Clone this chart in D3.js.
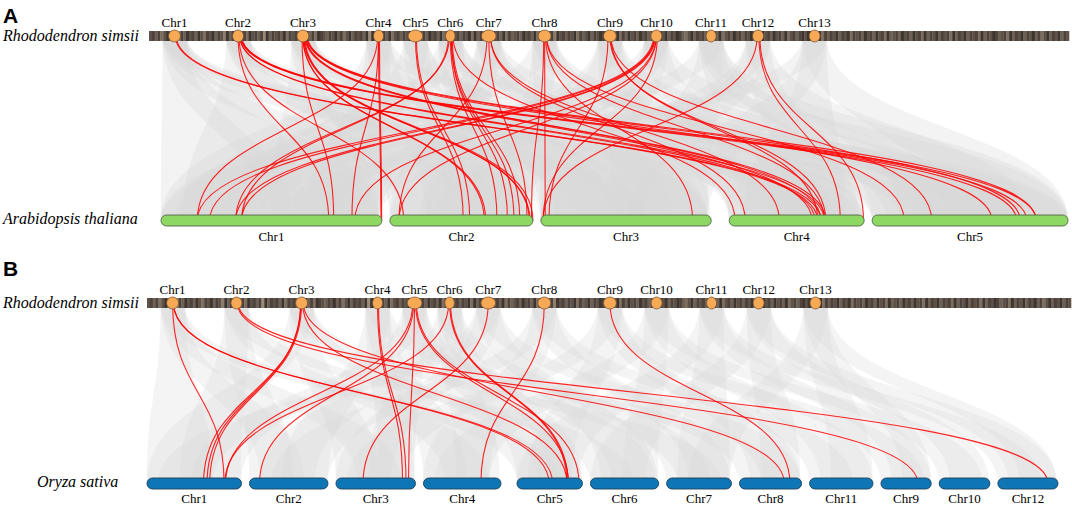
<!DOCTYPE html>
<html>
<head>
<meta charset="utf-8">
<script src="https://cdn.jsdelivr.net/npm/d3@7"></script>
<style>
  body { margin: 0; background: #fff; }
  svg { display: block; }
</style>
</head>
<body>
<script>
const width = 1072, height = 506;

// Rhododendron simsii chromosome marks: position along the top bar (0-1000) and mark size
const rsChr = ["Chr1", "Chr2", "Chr3", "Chr4", "Chr5", "Chr6", "Chr7", "Chr8", "Chr9", "Chr10", "Chr11", "Chr12", "Chr13"];
const rsPos = [27.7, 96.8, 167.3, 249.5, 289.6, 327.5, 369.3, 430, 501, 551.5, 611, 662, 723.5];
const rsSize = [13, 12, 13, 11, 16, 10.5, 16, 14, 14, 12, 11, 12, 12];
// gene density along the top bar (0 sparse .. 9 dense)
const rsDensity = "78685796873869786975879687496878685978683968786958786879685987687968579687869396878695786879685786978695869786879596878697869586786978695869784978687958679687986786958697869786795879687986579687869786957869786879586978697869578689797869586879687958786978697859678697869785968796878596879687859687986785968796879685796879687";

// Arabidopsis thaliana chromosomes (Mb)
const atChr = ["Chr1", "Chr2", "Chr3", "Chr4", "Chr5"];
const atLen = [30.43, 19.70, 23.46, 18.59, 26.98];

// Oryza sativa chromosomes (Mb), in plotted order
const osChr = ["Chr1", "Chr2", "Chr3", "Chr4", "Chr5", "Chr6", "Chr7", "Chr8", "Chr11", "Chr9", "Chr10", "Chr12"];
const osLen = [43.27, 35.94, 36.41, 35.50, 29.96, 31.25, 29.70, 28.44, 29.02, 23.01, 23.21, 27.53];

// collinear blocks (grey): [R. simsii chr, target chr (plot order), start Mb, end Mb]
const atBlocks = [
  [1,1,0,18],[1,1,14,30],[1,2,2,12],[1,3,5,15],[1,4,2,14],[1,5,0,10],
  [2,1,3,20],[2,2,10,19],[2,3,0,12],[2,4,8,18],[2,5,12,27],
  [3,1,15,30],[3,2,0,15],[3,3,10,23],[3,4,6,16],[3,5,4,20],
  [4,1,0,12],[4,1,20,30],[4,2,5,18],[4,3,2,14],[4,5,18,27],
  [5,1,8,26],[5,2,8,19],[5,3,12,23],[5,4,0,10],
  [6,1,2,14],[6,2,12,19.7],[6,3,0,10],[6,4,10,18.5],[6,5,0,12],
  [7,1,18,30],[7,2,0,8],[7,3,14,23],[7,4,0,9],[7,5,8,20],
  [8,1,0,10],[8,2,14,19.7],[8,3,0,18],[8,4,12,18.5],[8,5,2,16],
  [9,1,22,30],[9,2,4,14],[9,3,10,23.4],[9,4,0,14],[9,5,6,18],
  [10,1,0,16],[10,2,0,10],[10,3,0,8],[10,4,2,12],[10,5,14,27],
  [11,1,10,24],[11,3,8,23],[11,4,6,18],[11,5,0,14],[11,5,16,27],
  [12,2,6,18],[12,3,0,14],[12,4,8,18.5],[12,5,4,22],
  [13,1,16,30],[13,3,12,23],[13,4,2,16],[13,5,10,27]
];
const osBlocks = [
  [1,1,0,30],[1,2,5,25],[1,3,10,30],[1,5,0,20],
  [2,1,15,43],[2,2,0,20],[2,4,10,30],[2,6,0,20],
  [3,1,0,25],[3,3,0,20],[3,5,10,30],[3,7,5,25],
  [4,2,15,36],[4,3,20,36],[4,4,0,20],[4,8,0,20],
  [5,1,20,43],[5,3,15,36],[5,5,0,25],[5,6,10,30],
  [6,2,5,30],[6,4,15,35],[6,5,15,30],[6,7,0,20],
  [7,1,5,30],[7,3,0,25],[7,6,5,31],[7,8,10,28],
  [8,2,10,36],[8,4,0,30],[8,7,10,29],[8,9,0,20],
  [9,3,5,30],[9,5,5,25],[9,8,5,28],[9,10,0,20],
  [10,4,5,30],[10,6,15,31],[10,9,5,29],[10,11,0,20],
  [11,5,0,28],[11,7,5,29],[11,10,5,23],[11,12,0,20],
  [12,6,0,25],[12,8,10,28],[12,11,5,23],[12,12,5,27],
  [13,7,10,29],[13,9,10,29],[13,10,10,23],[13,12,10,27]
];

// highlighted gene pairs (red): [R. simsii chr, offset on mark, target chr (plot order), position Mb]
const atPairs = [
  [1,1,4,12.2],[1,2,4,12.65],
  [2,0,1,23.1],[2,1,2,1.9],[2,2,4,11.8],[2,2,4,13.1],[2,3,5,19.9],[2,3,5,21.3],[2,4,5,22.6],
  [3,-1,1,23.8],[3,0,2,13.0],[3,0,2,13.2],[3,1,2,19.2],[3,1,2,19.3],[3,2,2,19.7],[3,2,4,11.4],
  [3,3,4,12.65],[3,3,4,13.3],[3,4,5,16.5],[3,4,5,20.4],[3,5,5,22.6],
  [4,0,1,30.3],[4,1,1,30.4],[4,-1,1,5.0],[4,0,1,26.3],
  [5,0,2,10.1],[5,1,2,11.0],
  [6,-2,1,11.1],[6,-1,1,10.3],[6,0,2,14.75],[6,1,2,16.2],[6,1,2,17.1],[6,2,2,17.9],[6,3,4,0.8],
  [7,-2,2,1.25],[7,0,2,18.9],[7,2,4,2.2],[7,2,4,6.9],
  [8,-1,2,19.5],[8,0,3,0.6],[8,1,3,20.9],[8,2,5,4.4],[8,2,4,13.1],
  [9,-2,3,1.1],[9,0,4,13.3],[9,1,5,8.2],[9,1,4,12.2],
  [10,-3,1,5.0],[10,-2,1,6.7],[10,-2,1,10.3],[10,-1,1,11.1],[10,0,1,26.7],[10,0,2,1.25],[10,1,3,0.3],
  [12,-1,3,0.3],[12,1,4,15.3],[12,2,4,18.5]
];
const osPairs = [
  [1,0,1,35.3],[1,1,5,14.7],[1,1,5,16.3],
  [2,1,10,16.9],[2,2,12,22.9],
  [3,-1,1,25.9],[3,-1,1,27.5],[3,0,1,28.7],[3,1,5,22.9],[3,2,8,20.5],
  [4,0,3,30.5],[4,1,3,32.1],
  [5,-2,1,36.0],[5,-1,2,4.6],[5,0,3,33.2],[5,1,5,23.6],[5,2,5,28.4],
  [6,-1,1,35.6],[6,0,5,22.9],[6,1,5,23.4],
  [7,0,3,12.4],
  [8,0,4,26.3],
  [9,0,8,23.1]
];

const serif = "'Liberation Serif', 'Times New Roman', serif";
const sans = "'Liberation Sans', Arial, sans-serif";

const svg = d3.select("body").append("svg")
  .attr("width", width)
  .attr("height", height);

// lay chromosomes of the target genome along a row, one scale per chromosome
function layout(names, lens, x0, x1, gap, wideAfter, wideGap) {
  const k = (x1 - x0 - gap * (lens.length - 2) - wideGap) / d3.sum(lens);
  let x = x0;
  return names.map((n, i) => {
    const s = d3.scaleLinear().domain([0, lens[i]]).range([x, x + lens[i] * k]);
    x += lens[i] * k + (i === wideAfter ? wideGap : gap);
    return { name: n, len: lens[i], scale: s };
  });
}

function curve(x1, y1, x2, y2) {
  const ym = (y1 + y2) / 2;
  return `M${x1},${y1}C${x1},${ym} ${x2},${ym} ${x2},${y2}`;
}

function ribbon(a0, a1, y1, b0, b1, y2) {
  const ym = (y1 + y2) / 2;
  return `M${a0},${y1}C${a0},${ym} ${b0},${ym} ${b0},${y2}L${b1},${y2}C${b1},${ym} ${a1},${ym} ${a1},${y1}Z`;
}

const stripeColor = d3.scaleLinear().domain([0, 9]).range(["#cdb59c", "#3d3530"]);

function panel(cfg) {
  const g = svg.append("g");
  const x = d3.scaleLinear().domain([0, 1000]).range(cfg.topRange);
  const chrs = layout(cfg.names, cfg.lens, cfg.botRange[0], cfg.botRange[1], 8, cfg.wideAfter, cfg.wideGap);
  const yTop = cfg.topY + 5, yBot = cfg.botY + 5.5;

  // grey collinear blocks
  g.append("g").selectAll("path")
    .data(cfg.blocks)
    .join("path")
    .attr("d", d => {
      const c = x(rsPos[d[0] - 1]), s = 12;
      const sc = chrs[d[1] - 1].scale;
      return ribbon(c - s, c + s, yTop, sc(d[2]), sc(Math.min(d[3], chrs[d[1] - 1].len)), yBot);
    })
    .attr("fill", "#d6d6d6")
    .attr("fill-opacity", cfg.greyOpacity);

  // red gene pairs
  g.append("g").selectAll("path")
    .data(cfg.pairs)
    .join("path")
    .attr("d", d => curve(x(rsPos[d[0] - 1] + d[1]), yTop, chrs[d[2] - 1].scale(d[3]), yBot))
    .attr("fill", "none")
    .attr("stroke", "#ff0000")
    .attr("stroke-opacity", 0.85)
    .attr("stroke-width", 1.1);

  // top bar with density stripes
  const sw = (x.range()[1] - x.range()[0]) / rsDensity.length;
  g.append("g").selectAll("rect")
    .data(rsDensity.split("").map(Number))
    .join("rect")
    .attr("x", (d, i) => x.range()[0] + i * sw)
    .attr("y", cfg.topY)
    .attr("width", sw + 0.3)
    .attr("height", 10)
    .attr("fill", d => stripeColor(d));

  g.append("g").selectAll("ellipse")
    .data(rsChr)
    .join("ellipse")
    .attr("cx", (d, i) => x(rsPos[i]))
    .attr("cy", cfg.topY + 5)
    .attr("rx", (d, i) => (x(rsSize[i]) - x(0)) / 2)
    .attr("ry", 6)
    .attr("fill", "#f7a955")
    .attr("stroke", "#7a5632")
    .attr("stroke-width", 0.8);

  g.append("g").selectAll("text")
    .data(rsChr)
    .join("text")
    .attr("x", (d, i) => x(rsPos[i]))
    .attr("y", cfg.topY - 4.5)
    .attr("text-anchor", "middle")
    .attr("font-family", serif)
    .attr("font-size", 13)
    .text(d => d);

  // target genome chromosomes
  g.append("g").selectAll("rect")
    .data(chrs)
    .join("rect")
    .attr("x", d => d.scale.range()[0])
    .attr("y", cfg.botY)
    .attr("width", d => d.scale.range()[1] - d.scale.range()[0])
    .attr("height", 11)
    .attr("rx", 5.5)
    .attr("fill", cfg.color)
    .attr("stroke", cfg.stroke)
    .attr("stroke-width", 0.9);

  g.append("g").selectAll("text")
    .data(chrs)
    .join("text")
    .attr("x", d => (d.scale.range()[0] + d.scale.range()[1]) / 2)
    .attr("y", cfg.botY + cfg.labelDy)
    .attr("text-anchor", "middle")
    .attr("font-family", serif)
    .attr("font-size", 13)
    .text(d => d.name);

  // species names and panel letter
  g.append("text")
    .attr("x", 3).attr("y", cfg.topY + 9.5)
    .attr("font-family", serif).attr("font-style", "italic").attr("font-size", 16)
    .text("Rhododendron simsii");
  g.append("text")
    .attr("x", cfg.botNameX).attr("y", cfg.botY + 9)
    .attr("font-family", serif).attr("font-style", "italic").attr("font-size", 16)
    .text(cfg.species);
  g.append("text")
    .attr("x", 3).attr("y", cfg.letterY)
    .attr("font-family", sans).attr("font-weight", "bold").attr("font-size", 21)
    .text(cfg.letter);
}

panel({
  letter: "A", letterY: 23,
  topY: 31, topRange: [149, 1069],
  botY: 215, botRange: [161, 1068], labelDy: 26,
  names: atChr, lens: atLen, wideAfter: 2, wideGap: 18,
  blocks: atBlocks, pairs: atPairs, greyOpacity: 0.3,
  color: "#8cd862", stroke: "#55634a",
  species: "Arabidopsis thaliana", botNameX: 3
});

panel({
  letter: "B", letterY: 276,
  topY: 298, topRange: [147, 1071],
  botY: 478, botRange: [147, 1058], labelDy: 24.5,
  names: osChr, lens: osLen, wideAfter: 3, wideGap: 16,
  blocks: osBlocks, pairs: osPairs, greyOpacity: 0.28,
  color: "#0f76b6", stroke: "#1d3e57",
  species: "Oryza sativa", botNameX: 37
});
</script>
</body>
</html>
